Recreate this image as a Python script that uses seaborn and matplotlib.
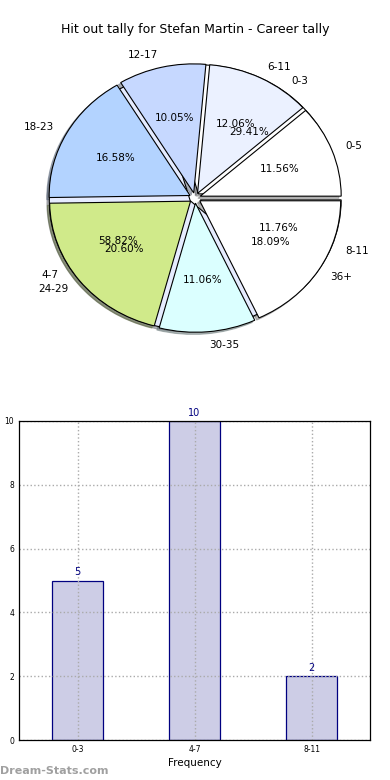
import numpy as np
import pandas as pd
import matplotlib
matplotlib.use("Agg")
import matplotlib.pyplot as plt
import seaborn as sns

# career tally (pie) data
age_labels = ['0-5', '6-11', '12-17', '18-23', '24-29', '30-35', '36+']
age_pct = [11.56, 12.06, 10.05, 16.58, 20.60, 11.06, 18.09]
age_colors = ['#ffffff', '#ebf1ff', '#c6d8ff', '#b3d3ff', '#d0ea8a', '#dbffff', '#ffffff']

freq_labels = ['0-3', '4-7', '8-11']
freq_counts = [5, 10, 2]
freq_colors = ['#ffffff', '#e6ecff', '#ffffff']

sns.set_style('white')
plt.rcParams['font.family'] = ['DejaVu Sans']
plt.rcParams['text.color'] = 'black'
plt.rcParams['xtick.color'] = 'black'
plt.rcParams['ytick.color'] = 'black'
plt.rcParams['axes.labelcolor'] = 'black'

fig = plt.figure(figsize=(3.9, 7.8), dpi=100)
fig.text(0.5, 1 - 30 / 780, 'Hit out tally for Stefan Martin - Career tally',
         ha='center', va='center', fontsize=9)

# pie part
ax1 = fig.add_axes([40 / 390, (780 - 340) / 780, 310 / 390, 284 / 780])
wp = dict(edgecolor='black', linewidth=0.8)
shd = dict(ox=-0.012, oy=-0.012, shade=0.55)
ax1.pie(freq_counts, labels=freq_labels, colors=freq_colors, autopct='%.2f%%',
        startangle=0, explode=[0.04] * 3, shadow=shd, wedgeprops=wp,
        textprops=dict(fontsize=7.5, color='black'))
ax1.pie(age_pct, labels=age_labels, colors=age_colors, autopct='%.2f%%',
        startangle=0, explode=[0.04] * 7, shadow=shd, wedgeprops=wp,
        textprops=dict(fontsize=7.5, color='black'))
ax1.set_aspect('auto')
ax1.set_xlim(-1.1, 1.1)
ax1.set_ylim(-1.1, 1.1)
ax1.axis('off')

# bar part
ax2 = fig.add_axes([19 / 390, 40 / 780, 351 / 390, 319 / 780])
df = pd.DataFrame({'bin': freq_labels, 'count': freq_counts})
sns.barplot(data=df, x='bin', y='count', ax=ax2, color='#cdcde6',
            edgecolor='#000080', linewidth=0.9, width=0.44, saturation=1)
for i, v in enumerate(freq_counts):
    ax2.text(i, v + 0.1, str(v), ha='center', va='bottom', color='#000080', fontsize=7)
ax2.set_xlim(-0.5, 2.5)
ax2.set_ylim(0, 10)
ax2.set_yticks([0, 2, 4, 6, 8, 10])
ax2.grid(True, linestyle=':', color='#aaaaaa', linewidth=1)
ax2.set_axisbelow(False)
for s in ax2.spines.values():
    s.set_color('black')
    s.set_linewidth(0.9)
    s.set_zorder(5)
ax2.tick_params(labelsize=5.5, length=2, direction='in')
ax2.set_xlabel('Frequency', fontsize=7.5, labelpad=3)
ax2.set_ylabel('Hit Outs Tally', fontsize=7)
ax2.yaxis.set_label_coords(-0.064, 0.5)

fig.text(0.0, 1 - 771 / 780, 'Dream-Stats.com', color='#a0a0a0', fontsize=8,
         weight='bold', ha='left', va='center')

fig.savefig('out.png', dpi=100)
